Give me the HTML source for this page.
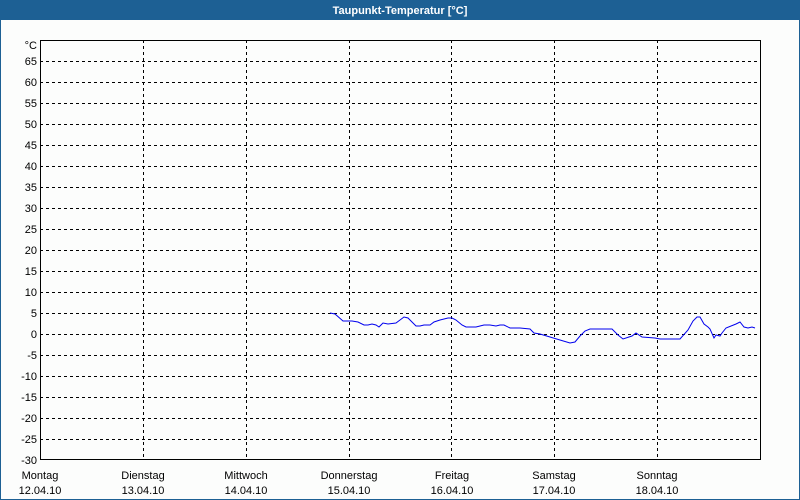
<!DOCTYPE html>
<html><head><meta charset="utf-8"><style>
body{margin:0;background:#fff}
svg{display:block}
text{font-family:"Liberation Sans",sans-serif;font-size:11px;fill:#000}
</style></head><body>
<svg width="800" height="500" xmlns="http://www.w3.org/2000/svg">
<rect x="0" y="0" width="800" height="500" fill="#fcfdfc"/>
<rect x="0.5" y="0.5" width="799" height="499" fill="none" stroke="#1d6094"/>
<rect x="0" y="0" width="800" height="20" fill="#1d6094"/>
<text x="400" y="14" text-anchor="middle" style="fill:#fff;font-weight:bold;font-size:11px">Taupunkt-Temperatur [°C]</text>
<g stroke="#000" stroke-dasharray="3,3" stroke-width="1">
<line x1="40" x2="760" y1="61.5" y2="61.5"/><line x1="40" x2="760" y1="82.5" y2="82.5"/><line x1="40" x2="760" y1="103.5" y2="103.5"/><line x1="40" x2="760" y1="124.5" y2="124.5"/><line x1="40" x2="760" y1="145.5" y2="145.5"/><line x1="40" x2="760" y1="166.5" y2="166.5"/><line x1="40" x2="760" y1="187.5" y2="187.5"/><line x1="40" x2="760" y1="208.5" y2="208.5"/><line x1="40" x2="760" y1="229.5" y2="229.5"/><line x1="40" x2="760" y1="250.5" y2="250.5"/><line x1="40" x2="760" y1="271.5" y2="271.5"/><line x1="40" x2="760" y1="292.5" y2="292.5"/><line x1="40" x2="760" y1="313.5" y2="313.5"/><line x1="40" x2="760" y1="334.5" y2="334.5"/><line x1="40" x2="760" y1="355.5" y2="355.5"/><line x1="40" x2="760" y1="376.5" y2="376.5"/><line x1="40" x2="760" y1="397.5" y2="397.5"/><line x1="40" x2="760" y1="418.5" y2="418.5"/><line x1="40" x2="760" y1="439.5" y2="439.5"/>
<line x1="143.5" x2="143.5" y1="40" y2="460"/><line x1="246.5" x2="246.5" y1="40" y2="460"/><line x1="349.5" x2="349.5" y1="40" y2="460"/><line x1="451.5" x2="451.5" y1="40" y2="460"/><line x1="554.5" x2="554.5" y1="40" y2="460"/><line x1="657.5" x2="657.5" y1="40" y2="460"/>
</g>
<rect x="40.5" y="40.5" width="720" height="419" fill="none" stroke="#000"/>
<g text-anchor="end">
<text x="37" y="49">°C</text>
<text x="37" y="65">65</text><text x="37" y="86">60</text><text x="37" y="107">55</text><text x="37" y="128">50</text><text x="37" y="149">45</text><text x="37" y="170">40</text><text x="37" y="191">35</text><text x="37" y="212">30</text><text x="37" y="233">25</text><text x="37" y="254">20</text><text x="37" y="275">15</text><text x="37" y="296">10</text><text x="37" y="317">5</text><text x="37" y="338">0</text><text x="37" y="359">-5</text><text x="37" y="380">-10</text><text x="37" y="401">-15</text><text x="37" y="422">-20</text><text x="37" y="443">-25</text><text x="37" y="464">-30</text>
</g>
<g text-anchor="middle">
<text x="40" y="479">Montag</text><text x="40" y="494">12.04.10</text>
<text x="143" y="479">Dienstag</text><text x="143" y="494">13.04.10</text>
<text x="246" y="479">Mittwoch</text><text x="246" y="494">14.04.10</text>
<text x="349" y="479">Donnerstag</text><text x="349" y="494">15.04.10</text>
<text x="452" y="479">Freitag</text><text x="452" y="494">16.04.10</text>
<text x="554" y="479">Samstag</text><text x="554" y="494">17.04.10</text>
<text x="657" y="479">Sonntag</text><text x="657" y="494">18.04.10</text>
</g>
<polyline fill="none" stroke="#0000ee" stroke-width="1" points="330,313 335,314 343,321 352,321 358,322 364,325 368,325 372,324 376,325 379,327 383,323 388,324 396,323 400,320 404,317 408,318 412,322 416,326 420,326 424,325 428,325 430,325 434,322 440,320 448,318 452,318 456,320 462,325 466,327 476,327 480,326 484,325 490,325 496,326 500,325 504,325 510,328 520,328 530,329 534,333 540,334 550,337 560,340 570,343 575,342 580,336 585,331 590,329 612,329 618,335 623,339 632,336 636,333 642,337 655,338 660,339 680,339 688,330 693,321 697,317 700,317 704,324 708,327 710,329 714,338 716,335 720,336 722,333 726,328 736,324 740,322 744,327 748,328 752,327 755,328"/>
</svg>
</body></html>
